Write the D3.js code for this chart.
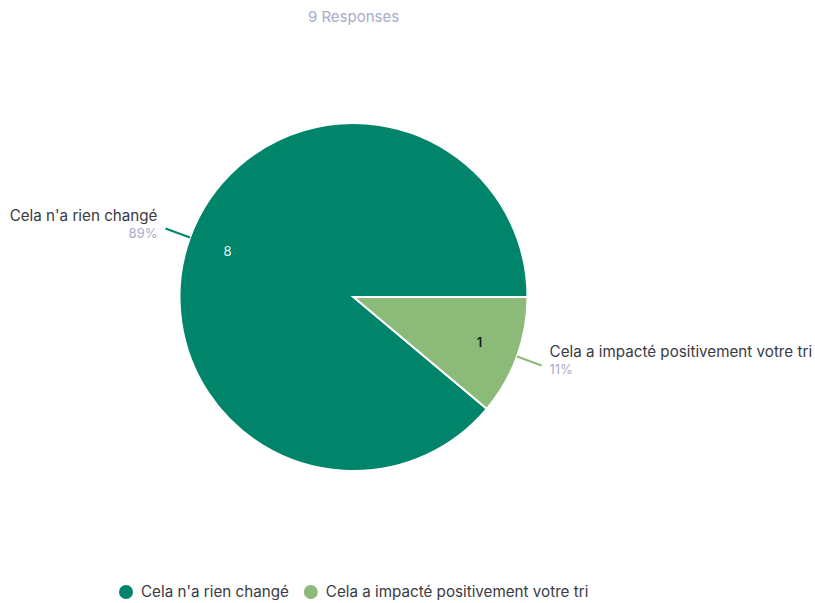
<!DOCTYPE html>
<html>
<head>
<meta charset="utf-8">
<script src="https://cdn.jsdelivr.net/npm/d3@7"></script>
<style>
  body { margin: 0; background: #fff; font-family: Inter, "Noto Sans", sans-serif; }
</style>
</head>
<body>
<div id="chart"></div>
<script>
const categories = ["Cela n'a rien changé", "Cela a impacté positivement votre tri"];
const counts = [8, 1];
const colors = ["#00856a", "#8cba78"];
const totalLabel = "9 Responses";

const width = 815, height = 603;
const cx = 353.5, cy = 297, r = 174;

const svg = d3.select("#chart").append("svg")
    .attr("width", width)
    .attr("height", height);

// titre
svg.append("text")
    .attr("x", 353.5).attr("y", 22)
    .attr("text-anchor", "middle")
    .attr("fill", "#a8abca")
    .style("font-size", "15px")
    .text(totalLabel);

const data = categories.map((c, i) => ({ name: c, value: counts[i], color: colors[i] }));
const total = d3.sum(counts);

const pie = d3.pie()
    .sort(null)
    .value(d => d.value)
    .startAngle(Math.PI / 2 + 2 * Math.PI * counts[1] / total)
    .endAngle(Math.PI / 2 + 2 * Math.PI * counts[1] / total + 2 * Math.PI);

const arcs = pie(data);
const arc = d3.arc().innerRadius(0).outerRadius(r);
const inner = d3.arc().innerRadius(r * 0.77).outerRadius(r * 0.77);
const edge = d3.arc().innerRadius(r).outerRadius(r);
const outer = d3.arc().innerRadius(r * 1.15).outerRadius(r * 1.15);

const g = svg.append("g").attr("transform", `translate(${cx},${cy})`);

g.selectAll("path.slice")
    .data(arcs)
    .enter().append("path")
    .attr("class", "slice")
    .attr("d", arc)
    .attr("fill", d => d.data.color)
    .attr("stroke", "#fff")
    .attr("stroke-width", 2);

// valeurs dans les parts
g.selectAll("text.val")
    .data(arcs)
    .enter().append("text")
    .attr("class", "val")
    .attr("transform", d => `translate(${inner.centroid(d)})`)
    .attr("dy", "0.35em")
    .attr("text-anchor", "middle")
    .attr("fill", (d, i) => i === 0 ? "#e8f3ee" : "#1a1a1a")
    .style("font-size", "13px")
    .style("font-weight", (d, i) => i === 0 ? 400 : 600)
    .text(d => d.data.value);

// lignes de rappel
g.selectAll("line.lead")
    .data(arcs)
    .enter().append("line")
    .attr("class", "lead")
    .attr("x1", d => edge.centroid(d)[0])
    .attr("y1", d => edge.centroid(d)[1])
    .attr("x2", d => outer.centroid(d)[0])
    .attr("y2", d => outer.centroid(d)[1])
    .attr("stroke", d => d.data.color)
    .attr("stroke-width", 2);

const labels = g.selectAll("g.lbl")
    .data(arcs)
    .enter().append("g")
    .attr("class", "lbl")
    .attr("transform", d => {
        const p = outer.centroid(d);
        const right = p[0] > 0;
        return `translate(${p[0] + (right ? 8 : -8)},${p[1]})`;
    })
    .attr("text-anchor", d => outer.centroid(d)[0] > 0 ? "start" : "end");

labels.append("text")
    .attr("y", -8)
    .attr("fill", "#3a3a44")
    .style("font-size", "15.2px")
    .text(d => d.data.name);

labels.append("text")
    .attr("y", 9)
    .attr("fill", "#a8abca")
    .style("font-size", "13px")
    .text(d => Math.round(d.data.value / total * 100) + "%");

// légende
const legend = svg.append("g").attr("transform", "translate(126,592)");
let lx = 0;
data.forEach(d => {
    const item = legend.append("g").attr("transform", `translate(${lx},0)`);
    item.append("circle").attr("r", 7).attr("fill", d.color);
    const t = item.append("text")
        .attr("x", 15).attr("dy", "0.35em")
        .attr("fill", "#3a3a44")
        .style("font-size", "15.2px")
        .text(d.name);
    lx += 15 + t.node().getComputedTextLength() + 22;
});
</script>
</body>
</html>
